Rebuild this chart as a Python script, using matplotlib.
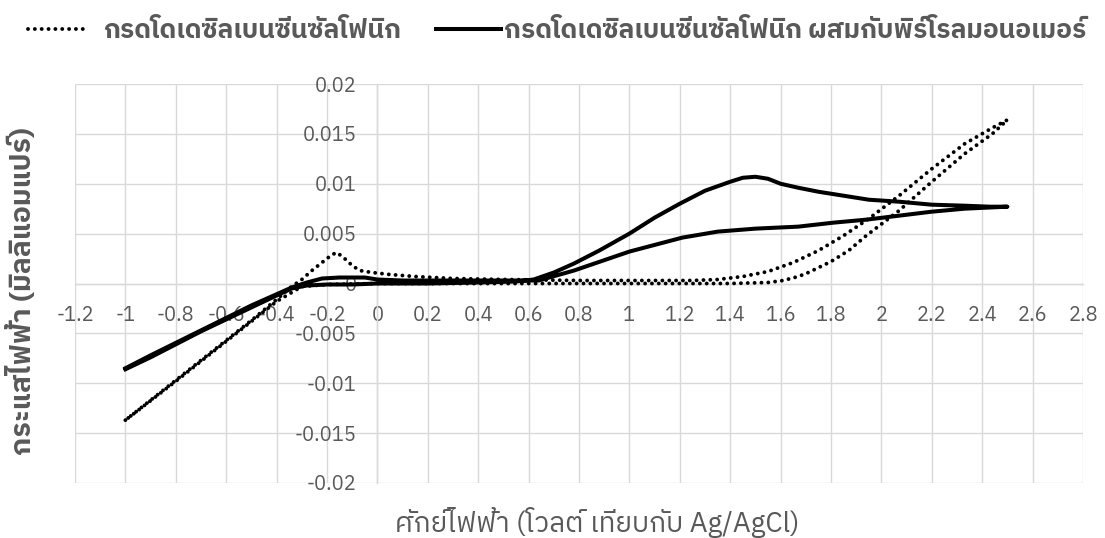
import numpy as np
import matplotlib
matplotlib.use("Agg")
import matplotlib.pyplot as plt
from matplotlib import font_manager
from matplotlib.ft2font import FT2Font

# Series (potential in V vs Ag/AgCl, current in mA)
DBSA_V = [-1.00, -0.90, -0.80, -0.70, -0.60, -0.50, -0.40, -0.34, -0.30, -0.26,
          -0.22, -0.18, -0.16, -0.13, -0.10, -0.07, -0.02, 0.05, 0.15, 0.30,
          0.50, 0.80, 1.10, 1.25, 1.35, 1.45, 1.55, 1.65, 1.75, 1.85,
          1.95, 2.07, 2.20, 2.33, 2.44, 2.50,
          2.44, 2.33, 2.20, 2.07, 1.94, 1.87, 1.80, 1.71, 1.67, 1.61,
          1.55, 1.40, 1.00, 0.50, 0.00, -0.20, -0.30, -0.40, -0.60, -0.80, -1.00]
DBSA_I = [-0.0137, -0.0117, -0.0097, -0.0077, -0.0057, -0.0037, -0.0016, -0.0003, 0.0004, 0.0013,
          0.0021, 0.0029, 0.0031, 0.0025, 0.0018, 0.0013, 0.0011, 0.0009, 0.0007, 0.0005,
          0.0004, 0.0003, 0.0003, 0.0003, 0.0004, 0.0007, 0.0012, 0.0021, 0.0033, 0.0048,
          0.0065, 0.0088, 0.0115, 0.0140, 0.0156, 0.0164,
          0.0150, 0.0130, 0.0102, 0.0073, 0.0048, 0.0033, 0.0022, 0.0011, 0.0007, 0.0003,
          0.0001, 0.0000, 0.0000, 0.0000, 0.0000, -0.0001, -0.0003, -0.0018, -0.0058, -0.0098, -0.0137]

MIX_V = [-1.00, -0.90, -0.80, -0.70, -0.60, -0.50, -0.40, -0.34, -0.28, -0.20,
         -0.10, 0.00, 0.20, 0.40, 0.55, 0.62, 0.70, 0.78, 0.88, 1.00,
         1.10, 1.20, 1.30, 1.40, 1.45, 1.50, 1.55, 1.60, 1.67, 1.75,
         1.85, 1.95, 2.07, 2.20, 2.33, 2.43, 2.50,
         2.33, 2.20, 2.07, 1.94, 1.81, 1.67, 1.50, 1.35, 1.21, 1.00,
         0.78, 0.64, 0.50, 0.30, 0.10, 0.00, -0.05, -0.15, -0.22, -0.28,
         -0.34, -0.50, -0.70, -0.90, -1.00]
MIX_I = [-0.0086, -0.0074, -0.0061, -0.0048, -0.0036, -0.0024, -0.0012, -0.0005, -0.0002, -0.0001,
         -0.0001, 0.0000, 0.0000, 0.0001, 0.0002, 0.0004, 0.0011, 0.0020, 0.0033, 0.0050,
         0.0066, 0.0080, 0.0093, 0.0102, 0.0106, 0.0107, 0.0105, 0.0100, 0.0096, 0.0092,
         0.0088, 0.0084, 0.0082, 0.0079, 0.0078, 0.0077, 0.0077,
         0.0075, 0.0072, 0.0068, 0.0064, 0.0061, 0.0057, 0.0055, 0.0052, 0.0046, 0.0032,
         0.0013, 0.0003, 0.0003, 0.0003, 0.0003, 0.0004, 0.0006, 0.0006, 0.0005, 0.0001,
         -0.0004, -0.0022, -0.0047, -0.0072, -0.0085]

LABEL_DBSA = "กรดโดเดซิลเบนซีนซัลโฟนิก"
LABEL_MIX = "กรดโดเดซิลเบนซีนซัลโฟนิก ผสมกับพิร์โรลมอนอเมอร์"
X_TITLE = "ศักย์ไฟฟ้า (โวลต์ เทียบกับ Ag/AgCl)"
Y_TITLE = "กระแสไฟฟ้า (มิลลิแอมแปร์)"

X_TICKS = [-1.2, -1.0, -0.8, -0.6, -0.4, -0.2, 0.0, 0.2, 0.4, 0.6, 0.8,
           1.0, 1.2, 1.4, 1.6, 1.8, 2.0, 2.2, 2.4, 2.6, 2.8]
Y_TICKS = [-0.02, -0.015, -0.01, -0.005, 0.0, 0.005, 0.01, 0.015, 0.02]

GRAY_TEXT = "#595959"
GRID = "#d9d9d9"
LEG_SIZE = 19


def find_thai_font():
    # look for any installed face that actually has Thai glyphs
    names = []
    for f in font_manager.fontManager.ttflist:
        try:
            if 0x0E01 in FT2Font(f.fname).get_charmap():
                names.append(f.name)
        except Exception:
            pass
    names.sort(key=lambda n: ("Thai" not in n, "Looped" in n, n))
    return names[0] if names else None


thai = find_thai_font()
families = ([thai] if thai else []) + ["Open Sans", "DejaVu Sans"]
plt.rcParams["font.family"] = families

fig = plt.figure(figsize=(11.05, 5.38), dpi=100)
ax = fig.add_axes([75 / 1105, 1 - 483 / 538, 1008 / 1105, 399 / 538])

line_dbsa, = ax.plot(DBSA_V, DBSA_I, color="black", lw=2.8, linestyle=(0, (0.01, 1.75)),
                     dash_capstyle="round", label=LABEL_DBSA, zorder=3)
line_mix, = ax.plot(MIX_V, MIX_I, color="black", lw=2.9, solid_joinstyle="round",
                    label=LABEL_MIX, zorder=3)

ax.set_xlim(-1.2, 2.8)
ax.set_ylim(-0.02, 0.02)
ax.set_xticks(X_TICKS)
ax.set_yticks(Y_TICKS)
ax.set_xticklabels([f"{round(v, 1):g}" for v in X_TICKS])
ax.set_yticklabels([f"{round(v, 3):g}" for v in Y_TICKS])

ax.grid(True, color=GRID, lw=1.0, zorder=0)
ax.set_axisbelow(True)
ax.spines["left"].set_position(("data", 0))
ax.spines["bottom"].set_position(("data", 0))
for side in ["left", "bottom"]:
    ax.spines[side].set_color(GRID)
    ax.spines[side].set_linewidth(1.0)
for side in ["top", "right"]:
    ax.spines[side].set_visible(False)
ax.tick_params(axis="both", length=0, labelsize=14.5, labelcolor=GRAY_TEXT)
ax.tick_params(axis="y", pad=15)
ax.tick_params(axis="x", pad=16)

fig.text(597 / 1105, 1 - 522 / 538, X_TITLE, ha="center", va="center",
         fontsize=20, color=GRAY_TEXT)
fig.text(22 / 1105, 1 - 291 / 538, Y_TITLE, ha="center", va="center",
         rotation=90, fontsize=20.5, fontweight="bold", color=GRAY_TEXT)

# two separate legend entries, placed like the original
leg_common = dict(loc="center left", frameon=False, fontsize=LEG_SIZE,
                  borderpad=0, borderaxespad=0)
leg1 = fig.legend([line_dbsa], [LABEL_DBSA], bbox_to_anchor=(28 / 1105, 1 - 31 / 538),
                  handlelength=2.3, handletextpad=0.55, **leg_common)
leg2 = fig.legend([line_mix], [LABEL_MIX], bbox_to_anchor=(436 / 1105, 1 - 31 / 538),
                  handlelength=2.45, handletextpad=0.12, **leg_common)
for leg in (leg1, leg2):
    for t in leg.get_texts():
        t.set_color(GRAY_TEXT)
        t.set_fontweight("bold")

fig.savefig("out.png", dpi=100)
